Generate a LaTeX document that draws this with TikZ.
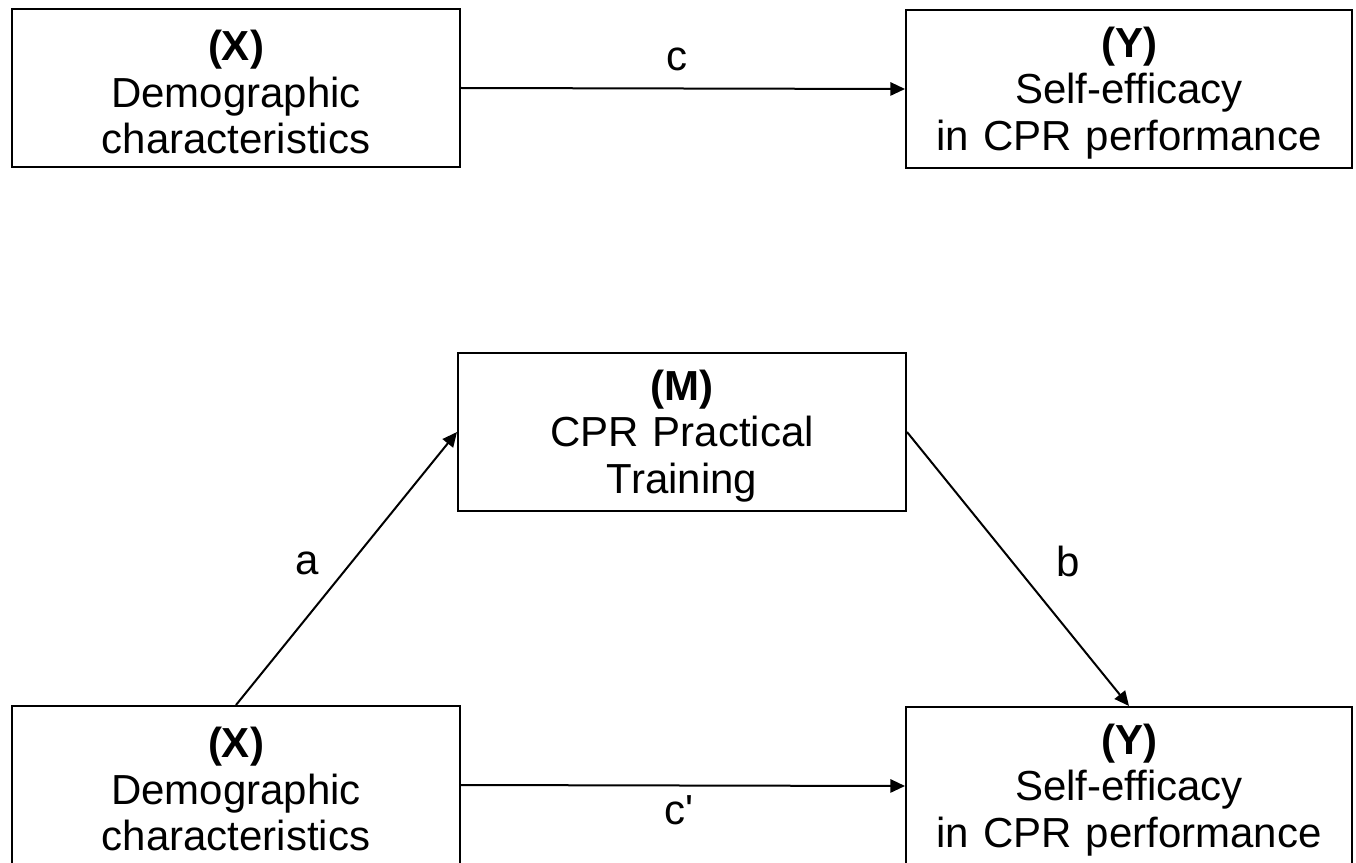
\documentclass[tikz,border=0pt]{standalone}
\usepackage{fontspec}
\setmainfont{Liberation Sans}
\newfontfamily\lblfont{Liberation Sans}
\usetikzlibrary{arrows.meta}
\newcommand{\topstrut}{\rule{0pt}{29pt}}
\begin{document}
\begin{tikzpicture}[x=0.75pt,y=-0.75pt,
  varbox/.style={draw=black, line width=1.5pt, minimum width=#1*0.75pt, minimum height=158*0.75pt,
    text width=#1*0.75pt-10pt, align=center, inner sep=0pt,
    font=\fontsize{31.5}{34.9}\selectfont},
  path/.style={line width=1.5pt, -{Triangle[length=11pt,width=10pt]}},
  lbl/.style={font=\lblfont\fontsize{31.5}{34.9}\selectfont, inner sep=0pt}]
\useasboundingbox (0,0) rectangle (1356,863);
\clip (0,0) rectangle (1356,863);
\fill[white] (0,0) rectangle (1356,863);
\node[varbox=448] (X1) at (236,88) {\topstrut\textbf{(X)}\\Demographic\\characteristics};
\node[varbox=446] (Y1) at (1129,89) {\topstrut\textbf{(Y)}\\Self-efficacy\\in CPR performance};
\node[varbox=448] (M) at (682,432) {\topstrut\textbf{(M)}\\CPR Practical\\Training};
\node[varbox=448] (X2) at (236,785) {\topstrut\textbf{(X)}\\Demographic\\characteristics};
\node[varbox=446] (Y2) at (1129,786) {\topstrut\textbf{(Y)}\\Self-efficacy\\in CPR performance};
\draw[path] (X1.east) -- (Y1.west);
\draw[path] (X2.north) -- (M.west);
\draw[path] (M.east) -- (Y2.north);
\draw[path] (X2.east) -- (Y2.west);
\node[lbl] (lc) at (677,59) {c};
\node[lbl] (la) at (307,563) {a};
\node[lbl] (lb) at (1068,561) {b};
\node[lbl] (lcp) at (679,810) {c'};
\end{tikzpicture}
\end{document}
